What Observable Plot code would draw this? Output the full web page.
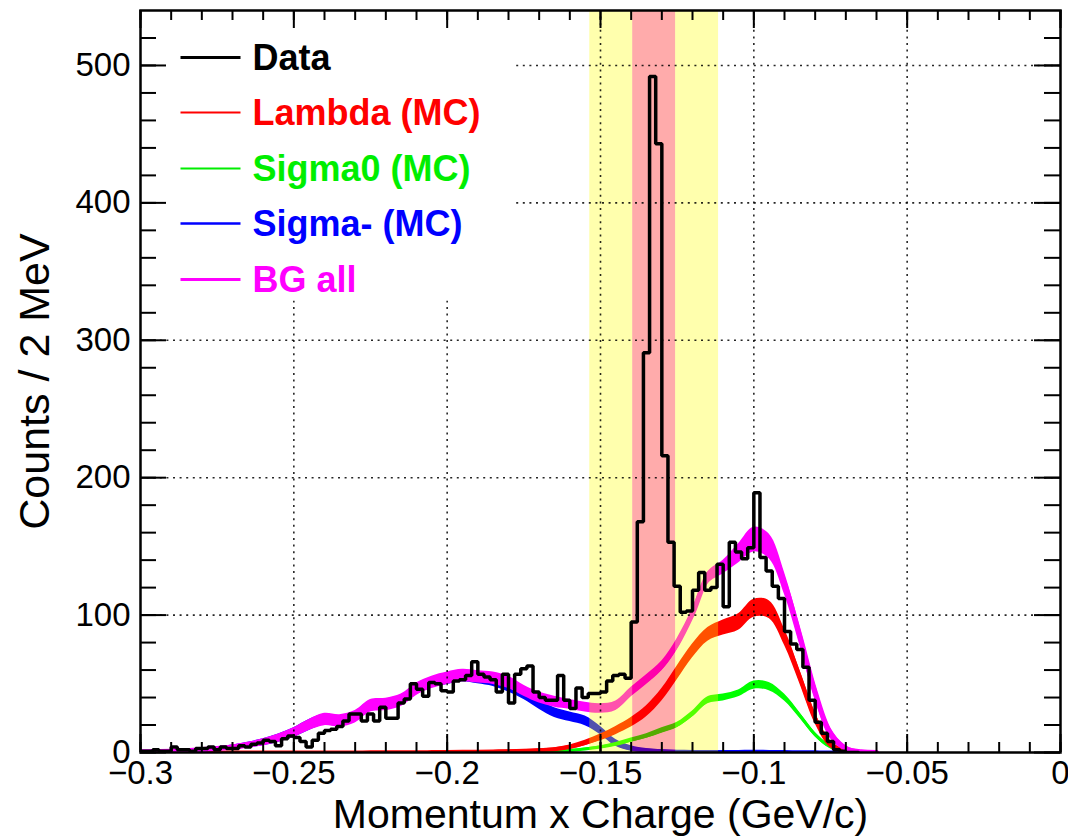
<!DOCTYPE html>
<html>
<head>
<meta charset="utf-8">
<script src="https://cdn.jsdelivr.net/npm/d3@7"></script>
<script src="https://cdn.jsdelivr.net/npm/@observablehq/plot@0.6"></script>
<style>
html, body { margin: 0; padding: 0; background: #fff; }
#chart { width: 1068px; height: 837px; }
</style>
</head>
<body>
<div id="chart"></div>
<script>
// ---------------- data ----------------
const binStart = -0.300;
const binWidth = 0.002;
// Data histogram counts per 2 MeV bin (left edge -0.300 ... -0.068)
const dataCounts = [
  1, 1, 2, 1, 1, 4, 2, 2, 1, 3,
  3, 4, 2, 4, 3, 3, 5, 4, 6, 7,
  9, 8, 5, 10, 12, 11, 8, 4, 9, 14,
  16, 17, 19, 23, 28, 28, 23, 28, 23, 33,
  25, 25, 36, 39, 50, 46, 41, 51, 50, 45,
  44, 52, 53, 56, 66, 57, 55, 53, 44, 57,
  36, 57, 61, 63, 44, 40, 38, 38, 56, 38,
  32, 47, 40, 43, 43, 44, 52, 56, 57, 54,
  95, 168, 291, 492, 443, 216, 153, 121, 102, 103,
  118, 131, 118, 120, 137, 106, 153, 146, 141, 149,
  189, 142, 132, 121, 112, 88, 79, 75, 62, 38,
  22, 14, 8, 2, 1, 0, 0
];

// MC curves sampled every 5 MeV
const mcX = [
  -0.300, -0.295, -0.290, -0.285, -0.280, -0.275, -0.270, -0.265, -0.260, -0.255,
  -0.250, -0.245, -0.240, -0.235, -0.230, -0.225, -0.220, -0.215, -0.210, -0.205,
  -0.200, -0.195, -0.190, -0.185, -0.180, -0.175, -0.170, -0.165, -0.160, -0.155,
  -0.150, -0.145, -0.140, -0.135, -0.130, -0.125, -0.120, -0.115, -0.110, -0.105,
  -0.100, -0.095, -0.090, -0.085, -0.080, -0.075, -0.070, -0.065, -0.060
];
const bgAll = [
  0.5, 0.7, 1, 1.3, 2, 3, 4, 5.5, 7.5, 10.5,
  14.5, 20, 24, 23, 26, 34, 35, 38, 46, 51,
  54, 56, 55, 54, 51, 45, 40, 37, 35, 33,
  32, 34, 44, 53, 63, 79, 101, 127, 135, 145,
  155, 150, 123, 85, 44, 14, 3, 0.5, 0
];
const bgAllErr = [
  1, 1, 1, 1, 1, 1.2, 1.5, 2, 2.5, 3,
  3.5, 4, 4.5, 4.5, 4.5, 4.5, 4.5, 4.5, 4.5, 4.5,
  4.5, 4.5, 4.5, 4.5, 4.5, 4, 4, 4, 3.5, 3.5,
  3.5, 3.5, 3.5, 3.5, 3.5, 4, 4, 4.5, 5, 7,
  9, 9, 8, 7, 6, 4, 2, 1, 0.5
];
const lambdaMC = [
  0, 0, 0, 0, 0, 0, 0, 0, 0, 0,
  0, 0, 0, 0, 0, 0.1, 0.1, 0.2, 0.2, 0.3,
  0.4, 0.5, 0.6, 0.8, 1, 1.3, 1.7, 2.3, 4, 7,
  11, 16, 22, 30, 42, 58, 74, 86, 91, 95,
  105, 104, 84, 55, 25, 6, 1, 0.2, 0
];
const lambdaErr = [
  0.3, 0.3, 0.3, 0.3, 0.3, 0.3, 0.3, 0.3, 0.3, 0.3,
  0.3, 0.3, 0.3, 0.3, 0.3, 0.4, 0.4, 0.4, 0.5, 0.5,
  0.5, 0.6, 0.6, 0.7, 0.8, 0.9, 1, 1.2, 1.5, 2,
  2.5, 3, 3.5, 4, 4.5, 5, 5, 5, 5.5, 6,
  6.5, 6.5, 6, 5, 4, 2.5, 1, 0.5, 0.3
];
const sigma0MC = [
  0, 0, 0, 0, 0, 0, 0, 0, 0, 0,
  0, 0, 0, 0, 0, 0, 0, 0, 0, 0,
  0.1, 0.2, 0.2, 0.3, 0.4, 0.5, 0.7, 1, 1.5, 2.5,
  4, 6, 9, 12, 16, 20, 28, 38, 40, 43,
  49, 48, 40, 27, 13, 4, 1, 0.2, 0
];
const sigma0Err = [
  0.2, 0.2, 0.2, 0.2, 0.2, 0.2, 0.2, 0.2, 0.2, 0.2,
  0.2, 0.2, 0.2, 0.2, 0.2, 0.2, 0.2, 0.2, 0.2, 0.2,
  0.2, 0.2, 0.2, 0.3, 0.3, 0.3, 0.4, 0.5, 0.6, 0.8,
  1, 1.2, 1.5, 1.7, 2, 2, 2.2, 2.5, 2.5, 2.5,
  3, 3, 2.5, 2, 1.5, 1, 0.5, 0.2, 0.1
];
const sigmaMinusMC = [
  0.5, 0.7, 1, 1.3, 2, 3, 4, 5.5, 7.5, 10.5,
  14.5, 20, 24, 23, 26, 34, 35, 38, 46, 51,
  53.5, 55.5, 54, 52, 48, 42, 35, 29, 26, 23,
  16, 7, 3, 1.5, 1, 0.6, 0.4, 0.3, 0.3, 0.4,
  0.6, 0.4, 0.3, 0.2, 0.1, 0, 0, 0, 0
];
const sigmaMinusErr = [
  1, 1, 1, 1, 1, 1.2, 1.5, 2, 2.5, 3,
  3.5, 4, 4, 4, 4, 4, 4, 4, 4, 4,
  4, 4, 4, 4, 4, 3.5, 3.5, 3.5, 3.5, 3.5,
  3, 2.5, 2, 1.5, 1, 0.8, 0.6, 0.5, 0.5, 0.5,
  0.5, 0.5, 0.4, 0.3, 0.2, 0.1, 0.1, 0.1, 0.1
];

// selection windows
const yellowWindow = [-0.1535, -0.1115];
const redWindow = [-0.1395, -0.1255];

// axes
const xTickValues = [-0.3, -0.25, -0.2, -0.15, -0.1, -0.05, 0];
const xTickLabels = ["\u22120.3", "\u22120.25", "\u22120.2", "\u22120.15", "\u22120.1", "\u22120.05", "0"];
const yTickValues = [0, 100, 200, 300, 400, 500];
const yTickLabels = ["0", "100", "200", "300", "400", "500"];
const xGrid = [-0.25, -0.2, -0.15, -0.1, -0.05];
const yGrid = [100, 200, 300, 400, 500];
const xTitle = "Momentum x Charge (GeV/c)";
const yTitle = "Counts / 2 MeV";

// legend
const legendLabels = ["Data", "Lambda (MC)", "Sigma0 (MC)", "Sigma- (MC)", "BG all"];
const legendColors = ["#000000", "#ff0000", "#00ee00", "#0000ff", "#ff00ff"];

// ---------------- layout ----------------
const W = 1068, H = 837;
const M = {top: 10, right: 8, bottom: 85, left: 140};
const FW = W - M.left - M.right;
const FH = H - M.top - M.bottom;
const xDomain = [-0.3, 0];
const yDomain = [0, 540];

const histPts = dataCounts.map((v, i) => ({x: binStart + i * binWidth, y: v}));
histPts.push({x: binStart + dataCounts.length * binWidth, y: dataCounts[dataCounts.length - 1]});

function band(vals, errs) {
  return mcX.map((x, i) => ({x, c: vals[i], lo: Math.max(0, vals[i] - errs[i]), hi: vals[i] + errs[i]}));
}
const series = [
  {v: sigmaMinusMC, e: sigmaMinusErr, color: "#0000ff", w: 4},
  {v: sigma0MC, e: sigma0Err, color: "#00ff00", w: 3},
  {v: lambdaMC, e: lambdaErr, color: "#ff0000", w: 4},
  {v: bgAll, e: bgAllErr, color: "#ff00ff", w: 5}
];
const mcMarks = [];
for (const s of series) {
  const rows = band(s.v, s.e);
  mcMarks.push(Plot.areaY(rows, {x: "x", y1: "lo", y2: "hi", fill: s.color, curve: "catmull-rom", clip: true}));
  mcMarks.push(Plot.line(rows, {x: "x", y: "c", stroke: s.color, strokeWidth: s.w, curve: "catmull-rom", clip: true}));
}

const shadeMarks = [
  Plot.rect([0], {x1: () => yellowWindow[0], x2: () => redWindow[0], y1: () => yDomain[0], y2: () => yDomain[1], fill: "#ffff00", fillOpacity: 0.32}),
  Plot.rect([0], {x1: () => redWindow[0], x2: () => redWindow[1], y1: () => yDomain[0], y2: () => yDomain[1], fill: "#ff0000", fillOpacity: 0.33}),
  Plot.rect([0], {x1: () => redWindow[1], x2: () => yellowWindow[1], y1: () => yDomain[0], y2: () => yDomain[1], fill: "#ffff00", fillOpacity: 0.32})
];

const gridMarks = [
  Plot.ruleX(xGrid, {stroke: "#000", strokeWidth: 1.6, strokeDasharray: "2,4.6", strokeOpacity: 0.85}),
  Plot.ruleY(yGrid, {stroke: "#000", strokeWidth: 1.6, strokeDasharray: "2,4.6", strokeOpacity: 0.85})
];

// legend (pixel layout)
const rowY = [57, 112, 168, 223, 279];
const swH = [3, 2, 2, 2.5, 3];
const legendMarks = [
  Plot.frame({fill: "white", stroke: "none", insetLeft: 2, insetTop: 2, insetRight: 548, insetBottom: 452})
];
legendLabels.forEach((lab, i) => {
  legendMarks.push(Plot.frame({
    fill: legendColors[i], stroke: "none",
    insetLeft: 180 - M.left, insetRight: (M.left + FW) - 240,
    insetTop: rowY[i] - M.top - swH[i] / 2, insetBottom: (M.top + FH) - (rowY[i] + swH[i] / 2)
  }));
  legendMarks.push(Plot.text([lab], {
    frameAnchor: "top-left", dx: 112, dy: rowY[i] - M.top + 1, text: d => d,
    fill: legendColors[i], fontSize: 36, fontWeight: "bold", textAnchor: "start", lineAnchor: "middle"
  }));
});

const xMinor = d3.range(0, 31).map(i => -0.3 + i * 0.01);
const yMinor = d3.range(0, 27).map(i => i * 20);
const tickStyle = {stroke: "#000", strokeWidth: 2};
const tickMarks = [
  Plot.ruleX(xMinor, {...tickStyle, insetTop: FH - 10}),
  Plot.ruleX(xMinor, {...tickStyle, insetBottom: FH - 10}),
  Plot.ruleX(xTickValues, {...tickStyle, insetTop: FH - 18}),
  Plot.ruleX(xTickValues, {...tickStyle, insetBottom: FH - 18}),
  Plot.ruleY(yMinor, {...tickStyle, insetRight: FW - 16}),
  Plot.ruleY(yMinor, {...tickStyle, insetLeft: FW - 16}),
  Plot.ruleY(yTickValues, {...tickStyle, insetRight: FW - 26}),
  Plot.ruleY(yTickValues, {...tickStyle, insetLeft: FW - 26}),
  Plot.frame({stroke: "#000", strokeWidth: 2.5, fill: "none"})
];

const labelMarks = [
  Plot.text(xTickValues, {x: d => d, frameAnchor: "bottom", dy: 31, lineAnchor: "bottom", textAnchor: "middle", text: (d, i) => xTickLabels[i], fontSize: 33, fill: "#000"}),
  Plot.text(yTickValues, {y: d => d, frameAnchor: "left", dx: -10, textAnchor: "end", lineAnchor: "middle", text: (d, i) => yTickLabels[i], fontSize: 33, fill: "#000"}),
  Plot.text([xTitle], {frameAnchor: "bottom", dy: 75, lineAnchor: "bottom", textAnchor: "middle", text: d => d, fontSize: 41, fill: "#000"}),
  Plot.text([yTitle], {frameAnchor: "left", dx: -105, rotate: -90, lineAnchor: "middle", textAnchor: "middle", text: d => d, fontSize: 43, fill: "#000"})
];

const chart = Plot.plot({
  width: W,
  height: H,
  marginTop: M.top,
  marginRight: M.right,
  marginBottom: M.bottom,
  marginLeft: M.left,
  x: {domain: xDomain, axis: null},
  y: {domain: yDomain, axis: null},
  style: {fontFamily: '"Liberation Sans", Arial, Helvetica, sans-serif', background: "white", color: "black", overflow: "visible"},
  marks: [
    ...mcMarks,
    ...shadeMarks,
    ...gridMarks,
    Plot.line(histPts, {x: "x", y: "y", curve: "step-after", stroke: "#000", strokeWidth: 3.5, strokeLinejoin: "miter", clip: true}),
    ...legendMarks,
    ...tickMarks,
    ...labelMarks
  ]
});
document.getElementById("chart").appendChild(chart);
</script>
</body>
</html>
